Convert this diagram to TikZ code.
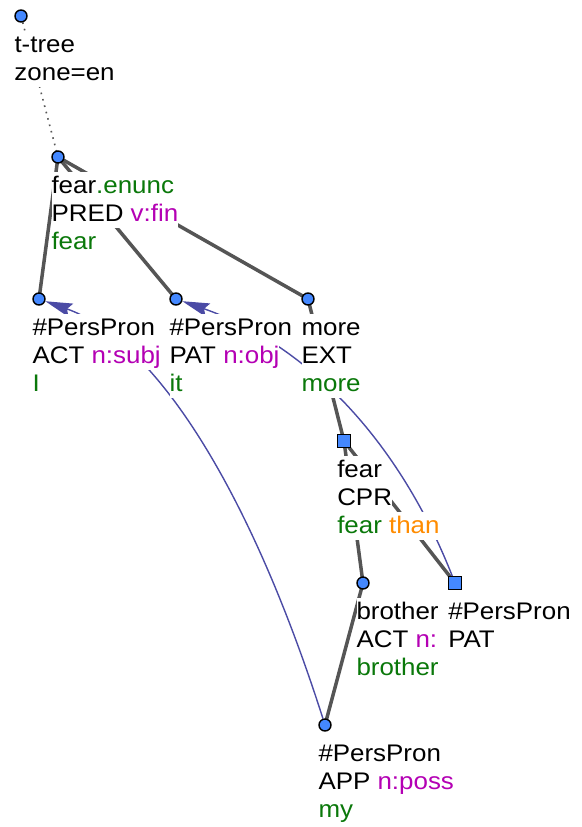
\documentclass[tikz,border=0pt]{standalone}
\usepackage{fontspec}
\setmainfont[FakeStretch=1.08]{Liberation Sans}
\usetikzlibrary{arrows.meta}
\definecolor{knotblue}{RGB}{68,136,255}
\definecolor{edgegray}{RGB}{85,85,85}
\definecolor{corefblue}{RGB}{75,75,165}
\definecolor{lemmagreen}{RGB}{10,120,10}
\definecolor{formmag}{RGB}{180,0,180}
\definecolor{auxorange}{RGB}{255,140,0}
\pgfdeclarelayer{bg}
\pgfsetlayers{bg,main}
\setlength{\fboxsep}{0pt}
% one line of a node label, white behind it
\newcommand{\bgline}[1]{\colorbox{white}{\rule[-7pt]{0pt}{28pt}#1}}
\newcommand{\lem}[1]{\textcolor{lemmagreen}{#1}}
\newcommand{\fm}[1]{\textcolor{formmag}{#1}}

\begin{document}
\begin{tikzpicture}[x=1pt,y=-1pt,font=\fontsize{24}{28}\selectfont,
  knot/.style={circle,draw=black,line width=1.4pt,fill=knotblue,minimum size=12pt,inner sep=0},
  sqknot/.style={rectangle,draw=black,line width=1.4pt,fill=knotblue,minimum size=12.5pt,inner sep=0},
  tlabel/.style={anchor=north west,yshift=-15pt,align=left,inner sep=0},
  tedge/.style={edgegray,line width=3.5pt},
  coref/.style={corefblue,line width=1.4pt,-{Stealth[length=27pt,width=14pt,inset=4pt]}}]
  \useasboundingbox (0,0) rectangle (581,827);
  % uzly
  \node[knot] (root) at (21,16) {};
  \node[knot] (fear) at (58,157) {};
  \node[knot] (actI) at (39,299) {};
  \node[knot] (patIt) at (176,299) {};
  \node[knot] (more) at (308,299) {};
  \node[sqknot] (cpr) at (344,441) {};
  \node[knot] (brother) at (363,583) {};
  \node[sqknot] (patPP) at (455,583) {};
  \node[knot] (my) at (325,725) {};
  % popisky
  \node[tlabel] at (root.west) {\bgline{t-tree}\\\bgline{zone=en}};
  \node[tlabel] at (fear.west) {\bgline{fear\lem{.enunc}}\\\bgline{PRED \fm{v:fin}}\\\bgline{\lem{fear}}};
  \node[tlabel] at (actI.west) {\bgline{\#PersPron}\\\bgline{ACT \fm{n:subj}}\\\bgline{\lem{I}}};
  \node[tlabel] at (patIt.west) {\bgline{\#PersPron}\\\bgline{PAT \fm{n:obj}}\\\bgline{\lem{it}}};
  \node[tlabel] at (more.west) {\bgline{more}\\\bgline{EXT}\\\bgline{\lem{more}}};
  \node[tlabel] at (cpr.west) {\bgline{fear}\\\bgline{CPR}\\\bgline{\lem{fear} \textcolor{auxorange}{than}}};
  \node[tlabel] at (brother.west) {\bgline{brother}\\\bgline{ACT \fm{n:}}\\\bgline{\lem{brother}}};
  \node[tlabel] at (patPP.west) {\bgline{\#PersPron}\\\bgline{PAT}};
  \node[tlabel] at (my.west) {\bgline{\#PersPron}\\\bgline{APP \fm{n:poss}}\\\bgline{\lem{my}}};
  % hrany a koreference
  \begin{pgfonlayer}{bg}
    \draw[edgegray,line width=1.6pt,dash pattern=on 1.6pt off 5pt] (root.center) -- (fear.center);
    \draw[tedge] (fear.center) -- (actI.center);
    \draw[tedge] (fear.center) -- (patIt.center);
    \draw[tedge] (fear.center) -- (more.center);
    \draw[tedge] (more.center) -- (cpr.center);
    \draw[tedge] (cpr.center) -- (brother.center);
    \draw[tedge] (cpr.center) -- (patPP.center);
    \draw[tedge] (brother.center) -- (my.center);
    \draw[coref] (my) .. controls +(-78,-244) and +(113,40) .. (actI);
    \draw[coref] (patPP) .. controls +(-57,-145) and +(129,45) .. (patIt);
  \end{pgfonlayer}
\end{tikzpicture}
\end{document}
